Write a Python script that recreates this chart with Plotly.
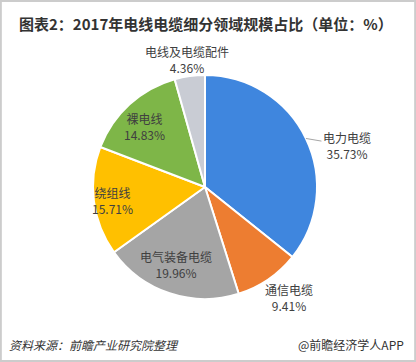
import math
import plotly.graph_objects as go

categories = ["电力电缆", "通信电缆", "电气装备电缆", "绕组线", "裸电线", "电线及电缆配件"]
shares = [35.73, 9.41, 19.96, 15.71, 14.83, 4.36]
colors = ["#3F86DE", "#ED7D31", "#A5A5A5", "#FFC000", "#7EB648", "#C9CCD4"]

# label placement style: radius factor (in units of pie radius) and pixel offset of text
label_radius = [1.0, 1.0, 0.73, 0.83, 0.78, 1.15]
label_offset = [(41, 7), (21, 18), (-3, 0), (0, 2), (-2, 4), (0, 0)]
label_leader = [True, False, False, False, False, False]

W, H = 416, 362
cx, cy, r = 205, 187, 112

fig = go.Figure(go.Pie(
    labels=categories,
    values=shares,
    sort=False,
    direction="clockwise",
    rotation=0,
    marker=dict(colors=colors, line=dict(color="white", width=2)),
    textinfo="none",
    hoverinfo="label+value",
    showlegend=False,
    domain=dict(x=[(cx - r) / W, (cx + r) / W], y=[1 - (cy + r) / H, 1 - (cy - r) / H]),
))

annotations = [
    dict(text="<b>图表2：2017年电线电缆细分领域规模占比（单位：%）</b>",
         xref="paper", yref="paper", x=206 / W, y=1 - 23 / H, xanchor="center", yanchor="middle",
         showarrow=False, font=dict(size=15, color="#333333")),
    dict(text="<i>资料来源：前瞻产业研究院整理</i>",
         xref="paper", yref="paper", x=7 / W, y=1 - 344 / H, xanchor="left", yanchor="middle",
         showarrow=False, font=dict(size=12, color="#333333")),
    dict(text="@前瞻经济学人APP",
         xref="paper", yref="paper", x=406 / W, y=1 - 344 / H, xanchor="right", yanchor="middle",
         showarrow=False, font=dict(size=12, color="#333333")),
]

total = sum(shares)
cum = 0.0
for cat, val, rf, (ox, oy), lead in zip(categories, shares, label_radius, label_offset, label_leader):
    mid = (cum + val / 2) / total
    cum += val
    ang = 2 * math.pi * mid
    px = cx + rf * r * math.sin(ang)
    py = cy - rf * r * math.cos(ang)
    txt = f"{cat}<br>{val:.2f}%"
    if lead:
        annotations.append(dict(
            text=txt, xref="paper", yref="paper", x=px / W, y=1 - py / H,
            showarrow=True, arrowhead=0, arrowwidth=1, arrowcolor="#A6A6A6",
            ax=ox, ay=oy, axref="pixel", ayref="pixel", standoff=0,
            font=dict(size=12, color="#404040"), align="center"))
    else:
        annotations.append(dict(
            text=txt, xref="paper", yref="paper", x=(px + ox) / W, y=1 - (py + oy) / H,
            xanchor="center", yanchor="middle", showarrow=False,
            font=dict(size=12, color="#404040"), align="center"))

fig.update_layout(
    width=W, height=H,
    margin=dict(l=0, r=0, t=0, b=0),
    paper_bgcolor="white",
    font=dict(family="Noto Sans CJK SC, Noto Sans, sans-serif", color="#404040"),
    annotations=annotations,
    shapes=[dict(type="rect", xref="paper", yref="paper", x0=0.002, y0=0.003, x1=0.998, y1=0.997,
                 line=dict(color="#CCCCCC", width=2), fillcolor="rgba(0,0,0,0)")],
)

fig.write_html("out.html", config={"displayModeBar": False},
               post_script="document.body.style.margin='0';document.body.style.overflow='hidden';")
